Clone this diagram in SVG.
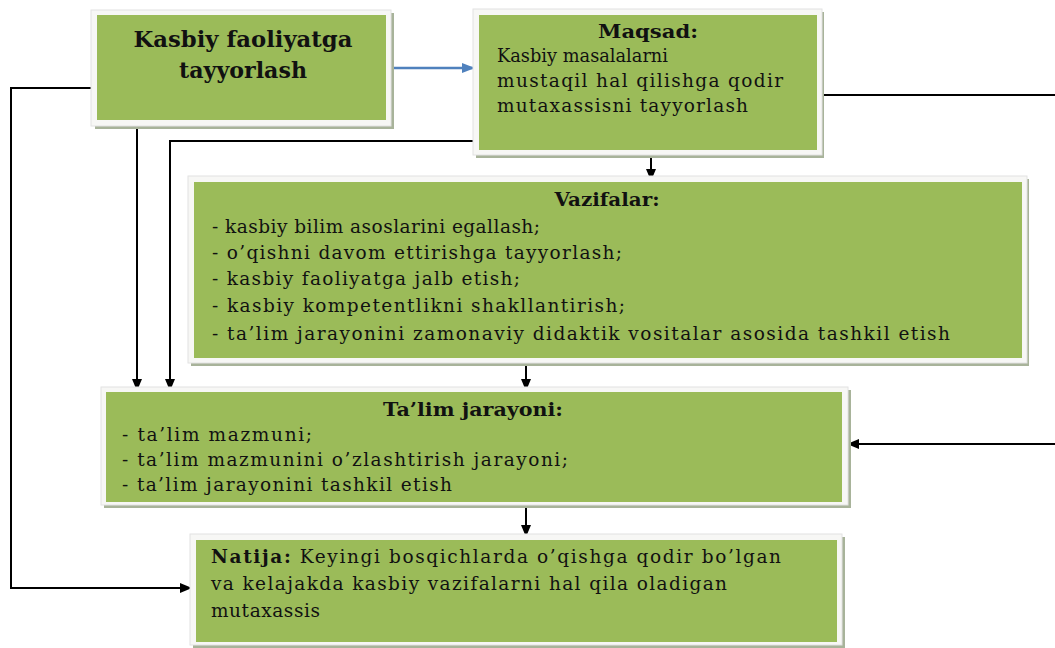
<svg xmlns="http://www.w3.org/2000/svg" width="1055" height="648" viewBox="0 0 1055 648">
<style>
.frame{fill:#f7f7f5;stroke:#e2e2e2;stroke-width:1}
.shadow{fill:#a8b39a}
.box{fill:#9BBB59}
.t{font-family:"DejaVu Serif","Liberation Serif",serif;font-size:18.5px;fill:#111}
.b{font-weight:bold}
.big{font-size:23px;font-weight:bold}
.ln{fill:none;stroke:#000;stroke-width:2}
.blue{fill:none;stroke:#4F81BD;stroke-width:2.5}
</style>
<defs>
<marker id="ah" markerWidth="12" markerHeight="12" refX="11" refY="6" orient="auto" markerUnits="userSpaceOnUse"><path d="M0,1 L12,6 L0,11 z" fill="#000"/></marker>
<marker id="ahb" markerWidth="13" markerHeight="12" refX="12" refY="6" orient="auto" markerUnits="userSpaceOnUse"><path d="M0,1 L13,6 L0,11 z" fill="#4F81BD"/></marker>
</defs>
<g id="connectors">
<path class="blue" d="M390,68 H474" marker-end="url(#ahb)"/>
<path class="ln" d="M92,88 H11 V588 H191" marker-end="url(#ah)"/>
<path class="ln" d="M137,128 V390" marker-end="url(#ah)"/>
<path class="ln" d="M475,141 H170 V390" marker-end="url(#ah)"/>
<path class="ln" d="M818,95 H1058 V444 H848" marker-end="url(#ah)"/>
<path class="ln" d="M651,152 V180" marker-end="url(#ah)"/>
<path class="ln" d="M526,362 V390" marker-end="url(#ah)"/>
<path class="ln" d="M526,504 V536" marker-end="url(#ah)"/>
</g>
<g id="node-kasbiy">
<rect class="shadow" x="95" y="13" width="299" height="116"/>
<rect class="frame" x="91" y="10" width="300" height="116"/>
<rect class="box" x="97" y="15" width="289" height="105"/>
<text class="t big" x="243" y="47" text-anchor="middle" textLength="219" lengthAdjust="spacingAndGlyphs">Kasbiy faoliyatga</text>
<text class="t big" x="243" y="78" text-anchor="middle" textLength="128" lengthAdjust="spacingAndGlyphs">tayyorlash</text>
</g>
<g id="node-maqsad">
<rect class="shadow" x="476" y="12" width="348" height="146"/>
<rect class="frame" x="473" y="9" width="349" height="146"/>
<rect class="box" x="479" y="15" width="338" height="135"/>
<text class="t b" x="648" y="38" text-anchor="middle" textLength="100" lengthAdjust="spacingAndGlyphs">Maqsad:</text>
<text class="t" x="497" y="62" textLength="171" lengthAdjust="spacingAndGlyphs">Kasbiy masalalarni</text>
<text class="t" x="497" y="87" textLength="286" lengthAdjust="spacing">mustaqil hal qilishga qodir</text>
<text class="t" x="497" y="112" textLength="251" lengthAdjust="spacing">mutaxassisni tayyorlash</text>
</g>
<g id="node-vazifalar">
<rect class="shadow" x="191" y="179" width="838" height="187"/>
<rect class="frame" x="188" y="176" width="839" height="187"/>
<rect class="box" x="194" y="182" width="828" height="176"/>
<text class="t b" x="607" y="206" text-anchor="middle" textLength="105" lengthAdjust="spacingAndGlyphs">Vazifalar:</text>
<text class="t" x="212" y="233" textLength="328" lengthAdjust="spacing">- kasbiy bilim asoslarini egallash;</text>
<text class="t" x="212" y="259" textLength="410" lengthAdjust="spacing">- o’qishni davom ettirishga tayyorlash;</text>
<text class="t" x="212" y="285" textLength="308" lengthAdjust="spacing">- kasbiy faoliyatga jalb etish;</text>
<text class="t" x="212" y="312" textLength="413" lengthAdjust="spacing">- kasbiy kompetentlikni shakllantirish;</text>
<text class="t" x="212" y="340" textLength="738" lengthAdjust="spacing">- ta’lim jarayonini zamonaviy didaktik vositalar asosida tashkil etish</text>
</g>
<g id="node-talim">
<rect class="shadow" x="104" y="390" width="747" height="118"/>
<rect class="frame" x="101" y="387" width="747" height="118"/>
<rect class="box" x="106" y="392" width="736" height="110"/>
<text class="t b" x="473" y="416" text-anchor="middle" textLength="180" lengthAdjust="spacingAndGlyphs">Ta’lim jarayoni:</text>
<text class="t" x="122" y="441" textLength="190" lengthAdjust="spacing">- ta’lim mazmuni;</text>
<text class="t" x="122" y="466" textLength="446" lengthAdjust="spacing">- ta’lim mazmunini o’zlashtirish jarayoni;</text>
<text class="t" x="122" y="491" textLength="330" lengthAdjust="spacing">- ta’lim jarayonini tashkil etish</text>
</g>
<g id="node-natija">
<rect class="shadow" x="193" y="537" width="652" height="111"/>
<rect class="frame" x="190" y="534" width="652" height="111"/>
<rect class="box" x="196" y="540" width="641" height="102"/>
<text class="t" x="211" y="563" textLength="570" lengthAdjust="spacing"><tspan class="b">Natija:</tspan> Keyingi bosqichlarda o’qishga qodir bo’lgan</text>
<text class="t" x="211" y="590" textLength="516" lengthAdjust="spacing">va kelajakda kasbiy vazifalarni hal qila oladigan</text>
<text class="t" x="211" y="617" textLength="109" lengthAdjust="spacing">mutaxassis</text>
</g>
</svg>
